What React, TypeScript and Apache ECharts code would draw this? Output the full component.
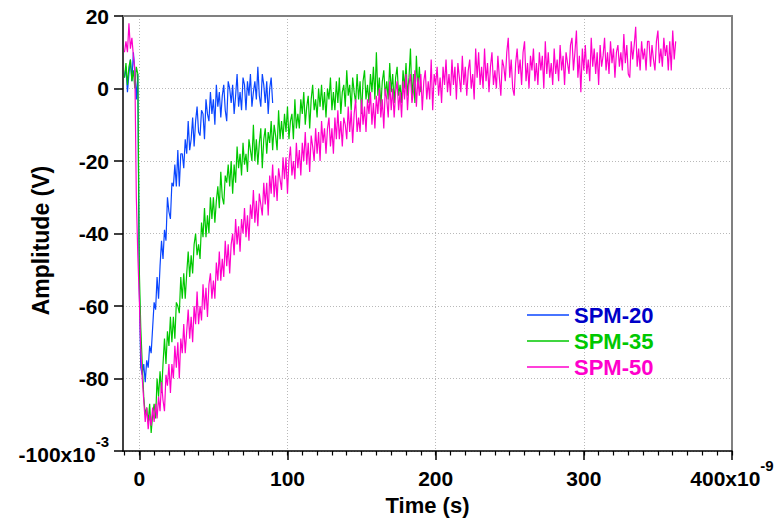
import React, { useEffect, useRef } from 'react';
import * as echarts from 'echarts';

// time axis in ns (labels shown as x10^-9 s), amplitude in mV (labels shown as x10^-3 V)
const START_TIME = -10;
const TIME_STEP = 1;

const SERIES_NAMES = ['SPM-20', 'SPM-35', 'SPM-50'];
const LINE_COLORS = ['#0a46ff', '#00c800', '#ff00cc'];
const LEGEND_TEXT_COLORS = ['#0000c8', '#00c800', '#ff00cc'];

const SPM20 = [
  3, 6, -1, 4, 8, 2, 10, 5, -3, 4,
  -55, -77, -79, -76, -81, -75, -77, -71, -73, -66,
  -59, -61, -52, -58, -49, -42, -47, -39, -42, -30,
  -34, -36, -26, -27, -21, -27, -17, -27, -18, -18,
  -22, -14, -18, -9, -17, -14, -8, -16, -9, -5,
  -12, -13, -6, -7, -14, -3, -7, -9, -1, -7,
  -3, -10, 1, -5, -1, -8, -2, 1, -6, -9,
  2, 0, -4, 1, -7, -2, 4, -5, -1, -6,
  3, 1, -6, 2, -2, 4, -5, -1, 2, -3,
  6, -2, -5, 4, 1, -4, 2, -7, 0, 3,
  -4,
];

const SPM35 = [
  3, 7, 1, 6, 8, 2, 5, 0, 6, 4,
  -50, -66, -76, -85, -90, -88, -92, -87, -95, -90,
  -87, -91, -80, -85, -78, -84, -76, -69, -76, -67,
  -71, -63, -70, -63, -69, -59, -60, -62, -52, -58,
  -51, -58, -51, -45, -52, -46, -51, -43, -40, -46,
  -43, -47, -37, -41, -33, -41, -35, -40, -30, -36,
  -30, -37, -31, -27, -33, -23, -30, -32, -24, -26,
  -21, -27, -20, -29, -21, -26, -16, -22, -18, -24,
  -15, -21, -18, -23, -14, -17, -20, -10, -20, -14,
  -21, -15, -11, -22, -14, -11, -18, -12, -15, -9,
  -17, -10, -13, -17, -6, -14, -9, -14, -7, -12,
  -5, -14, -9, -7, -14, -3, -11, -7, -11, -3,
  -7, -1, -10, -5, -2, -11, -3, 1, -6, -3,
  -8, 0, -5, 1, -6, -1, -8, 0, -3, 3,
  -6, -1, -6, 2, -4, 3, -7, -1, 1, -5,
  5, -2, 1, -6, 3, -1, -4, 4, -3, 2,
  -7, 2, 5, -3, 1, -4, 4, -1, 6, -3,
  10, -2, 3, -5, 2, 5, -2, 2, -3, 7,
  -1, 4, -4, 3, 6, -2, 1, -4, 5, 0,
  7, -2, 3, 11, -3, 4, -4, 9, 0, 6,
  -1,
];

const SPM50 = [
  10, 13, 10, 18, 11, 14, 9, 5, -30, -46,
  -58, -72, -80, -86, -92, -88, -94, -90, -93, -88,
  -92, -87, -91, -85, -89, -81, -86, -89, -79, -82,
  -76, -84, -76, -80, -71, -77, -70, -80, -69, -73,
  -65, -73, -67, -61, -69, -63, -70, -60, -65, -56,
  -65, -60, -64, -54, -61, -55, -63, -54, -51, -58,
  -53, -58, -48, -53, -45, -53, -47, -52, -42, -49,
  -43, -51, -43, -40, -46, -36, -43, -38, -45, -36,
  -40, -33, -41, -35, -42, -32, -36, -28, -37, -31,
  -38, -29, -32, -35, -26, -32, -26, -35, -24, -29,
  -21, -30, -24, -31, -22, -25, -28, -19, -25, -19,
  -29, -20, -16, -24, -20, -25, -15, -22, -17, -24,
  -15, -20, -12, -21, -15, -23, -13, -16, -20, -11,
  -18, -12, -20, -9, -15, -11, -18, -11, -8, -16,
  -11, -18, -8, -14, -6, -14, -9, -16, -8, -10,
  -14, -5, -12, -6, -15, -7, -3, -12, -8, -12,
  -3, -10, -5, -12, -3, -7, -1, -10, -4, -11,
  -2, -7, 0, -8, -3, -11, 0, -3, -8, 2,
  -6, 0, -8, -1, 2, -6, -1, -8, 2, -3,
  4, -6, 1, 4, -4, -1, 5, -5, 3, -2,
  4, -6, 2, 5, -3, 2, -3, 8, -6, 4,
  1, 6, -2, 3, -4, 6, 1, 8, -1, 4,
  -2, 8, 1, 6, -3, 7, 3, -1, 9, 1,
  6, -2, 5, 8, 0, 4, -3, 11, 3, 10,
  1, 6, 0, 11, 2, 7, -1, 6, 10, 1,
  5, 0, 9, 3, -2, 8, 6, 2, 10, 14,
  3, 8, 0, -2, 7, 11, 4, 8, 1, 10,
  13, 2, 7, 0, 9, 5, 11, 2, 7, 1,
  10, 5, 9, 0, 13, 4, 10, 3, 7, 1,
  11, 4, 8, 2, 12, 5, 9, 1, 10, 7,
  4, 12, 14, 5, 10, 16, 3, 9, -1, 11,
  5, 12, 4, 8, 2, 14, 6, 11, 4, 10,
  1, 12, 6, 9, 14, 5, 10, 4, 13, 7,
  11, 3, 10, 12, 6, 10, 5, 15, 7, 12,
  4, 3, 13, 8, 12, 17, 6, 11, 5, 13,
  8, 11, 5, 13, 13, 6, 12, 8, 5, 13,
  16, 7, 11, 6, 14, 9, 12, 5, 13, 5,
  16, 8, 13,
];

const X_MIN = -11;
const X_MAX = 400;
const X_TICKS = [0, 100, 200, 300, 400];
const X_MINOR_STEP = 10;
const X_EXP = '-9';
const Y_MIN = -100;
const Y_MAX = 20;
const Y_STEP = 20;
const Y_EXP = '-3';

const FONT = '"Liberation Sans", Arial, Helvetica, sans-serif';
const GRID_LINE = { color: '#b9b9b9', type: [1, 2], width: 1 };

export default function App() {
  const ref = useRef<HTMLDivElement>(null);

  useEffect(() => {
    document.body.style.margin = '0';
    const chart = echarts.init(ref.current as HTMLDivElement, null, { renderer: 'svg' });

    const toPairs = (vals: number[]) => vals.map((v, i) => [START_TIME + i * TIME_STEP, v]);
    const minorTicks: number[] = [];
    for (let t = Math.ceil(X_MIN / X_MINOR_STEP) * X_MINOR_STEP; t <= X_MAX; t += X_MINOR_STEP) minorTicks.push(t);

    const rich = {
      b: { fontSize: 21, fontWeight: 'bold', color: '#000', fontFamily: FONT, padding: [10, 0, 4, 0] },
      s: { fontSize: 15, fontWeight: 'bold', color: '#000', fontFamily: FONT, verticalAlign: 'top' },
    };

    const values = [SPM20, SPM35, SPM50];

    const option: any = {
      animation: false,
      backgroundColor: '#ffffff',
      grid: { left: 123, right: 46, top: 16, bottom: 67, show: false, containLabel: false, outerBoundsMode: 'none' },
      legend: {
        orient: 'vertical',
        left: 522,
        top: 299,
        icon: 'rect',
        itemWidth: 42,
        itemHeight: 1.4,
        itemGap: 4,
        itemTextGap: 12,
        selectedMode: false,
        textStyle: { fontSize: 22, fontWeight: 'bold', fontFamily: FONT, lineHeight: 22 },
        data: SERIES_NAMES.map((n, i) => ({ name: n, textStyle: { color: LEGEND_TEXT_COLORS[i] } })),
      },
      xAxis: [
        {
          type: 'value',
          position: 'bottom',
          min: X_MIN,
          max: X_MAX,
          name: 'Time (s)',
          nameLocation: 'middle',
          nameGap: 43,
          nameMoveOverlap: false,
          nameTextStyle: { fontSize: 22, fontWeight: 'bold', color: '#000', fontFamily: FONT },
          axisLine: { show: true, onZero: false, lineStyle: { color: '#000', width: 1.5 } },
          axisTick: { show: true, length: 9, customValues: X_TICKS, lineStyle: { color: '#000', width: 1.5 } },
          axisLabel: {
            customValues: X_TICKS,
            margin: 7,
            fontSize: 21,
            fontWeight: 'bold',
            color: '#000',
            fontFamily: FONT,
            formatter: (v: number) =>
              v === X_TICKS[X_TICKS.length - 1] ? `{b|${v}x10}{s|${X_EXP}}` : `{b|${v}}`,
            rich,
          },
          splitLine: { show: true, lineStyle: GRID_LINE },
        },
        {
          type: 'value',
          position: 'bottom',
          min: X_MIN,
          max: X_MAX,
          axisLine: { show: false, onZero: false },
          axisTick: { show: true, length: 4.5, customValues: minorTicks, lineStyle: { color: '#000', width: 1.2 } },
          axisLabel: { show: false },
          splitLine: { show: false },
        },
        {
          type: 'value',
          position: 'top',
          min: X_MIN,
          max: X_MAX,
          axisLine: { show: true, onZero: false, lineStyle: { color: '#808080', width: 2 } },
          axisTick: { show: false },
          axisLabel: { show: false },
          splitLine: { show: false },
        },
      ],
      yAxis: [
        {
          type: 'value',
          position: 'left',
          min: Y_MIN,
          max: Y_MAX,
          interval: Y_STEP,
          name: 'Amplitude (V)',
          nameLocation: 'middle',
          nameGap: 71,
          nameMoveOverlap: false,
          nameTextStyle: { fontSize: 23, fontWeight: 'bold', color: '#000', fontFamily: FONT, padding: [0, 14, 0, 0] },
          axisLine: { show: true, onZero: false, lineStyle: { color: '#000', width: 1.5 } },
          axisTick: { show: true, length: 9, lineStyle: { color: '#000', width: 1.5 } },
          axisLabel: {
            margin: 14,
            fontSize: 21,
            fontWeight: 'bold',
            color: '#000',
            fontFamily: FONT,
            formatter: (v: number) => (v === Y_MIN ? `{b|${v}x10}{s|${Y_EXP}}` : `${v}`),
            rich,
          },
          splitLine: { show: true, lineStyle: GRID_LINE },
        },
        {
          type: 'value',
          position: 'right',
          min: Y_MIN,
          max: Y_MAX,
          interval: Y_STEP,
          axisLine: { show: true, onZero: false, lineStyle: { color: '#808080', width: 2 } },
          axisTick: { show: false },
          axisLabel: { show: false },
          splitLine: { show: false },
        },
      ],
      series: SERIES_NAMES.map((name, i) => ({
        name,
        type: 'line',
        xAxisIndex: 0,
        yAxisIndex: 0,
        symbol: 'none',
        showSymbol: false,
        color: LINE_COLORS[i],
        lineStyle: { color: LINE_COLORS[i], width: 1.2 },
        data: toPairs(values[i]),
      })),
    };

    chart.setOption(option);
    return () => chart.dispose();
  }, []);

  return <div ref={ref} style={{ width: 778, height: 518 }} />;
}
